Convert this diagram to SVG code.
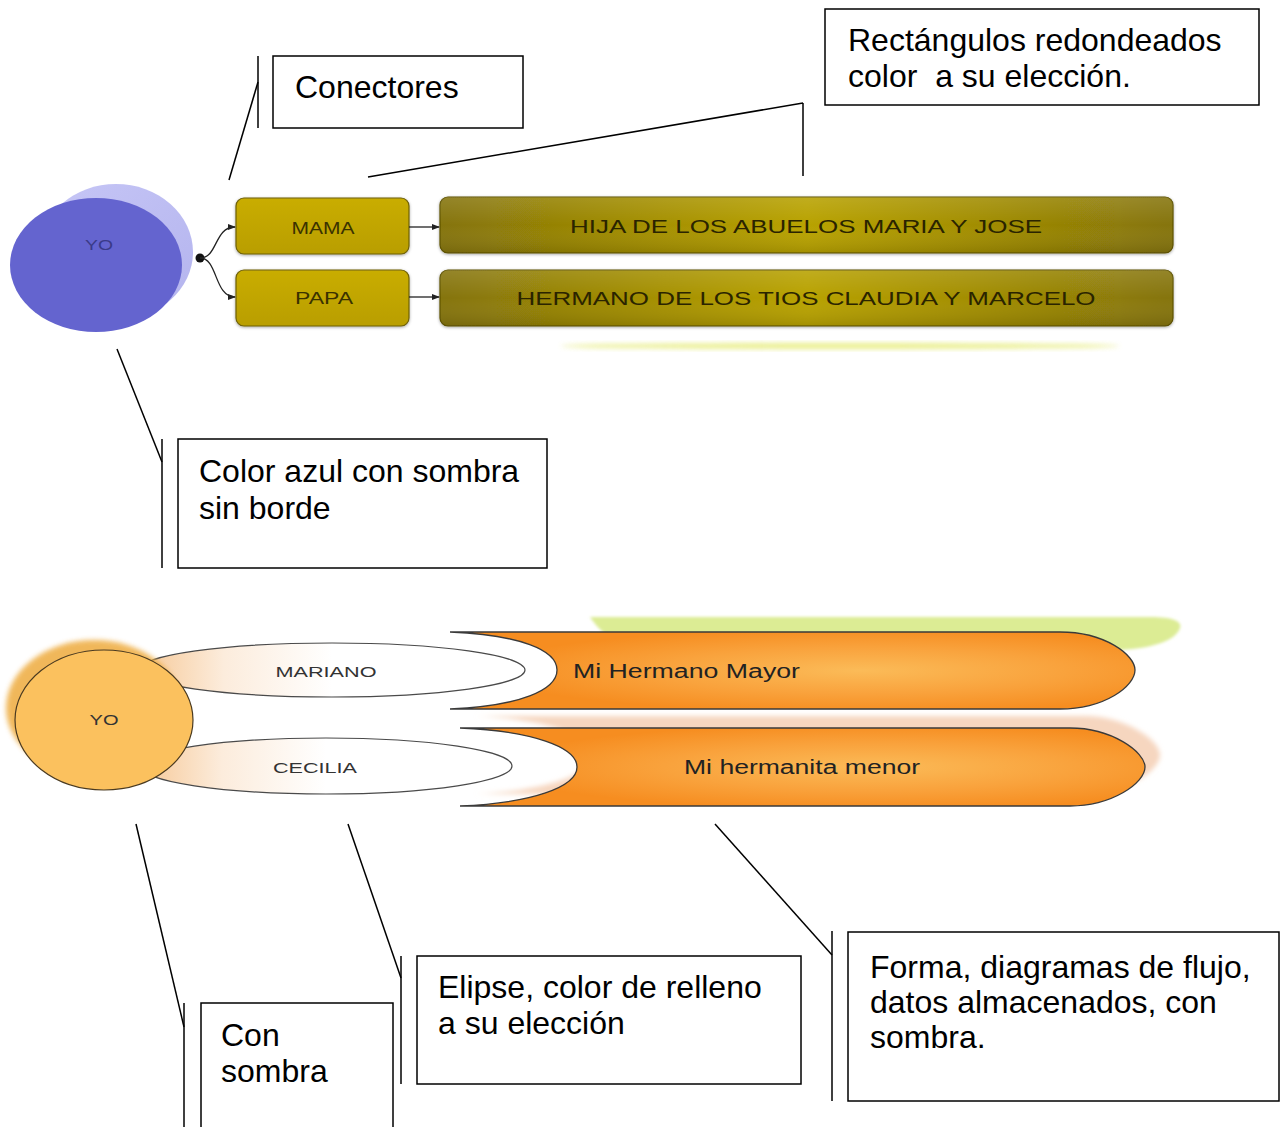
<svg xmlns="http://www.w3.org/2000/svg" width="1281" height="1127" viewBox="0 0 1281 1127">
<style>
.note{fill:#fff;stroke:#000;stroke-width:1.5}
.bar{stroke:#000;stroke-width:1.5;fill:none}
.ntxt{font-family:"Liberation Sans",Arial,sans-serif;font-size:32px;fill:#000}
.lbl{font-family:"Liberation Sans",Arial,sans-serif;text-anchor:middle;dominant-baseline:central}
.olive{fill:url(#gOlive);stroke:#6e6008;stroke-width:1.2}
.oliveBig{fill:url(#gOliveBig);stroke:#5e5206;stroke-width:1.2}
.conn{stroke:#222;stroke-width:1.3;fill:none}
.store{fill:url(#gOrange);stroke:#3a3a3a;stroke-width:1.3}
.wellipse{fill:url(#gPeach);stroke:#4a4a4a;stroke-width:1.2}
</style>
<defs>
<linearGradient id="gOlive" x1="0" y1="0" x2="0" y2="1">
<stop offset="0" stop-color="#c9ad06"/><stop offset="1" stop-color="#b99e02"/>
</linearGradient>
<linearGradient id="gOliveBig" x1="0" y1="0" x2="1" y2="0">
<stop offset="0" stop-color="#857408"/><stop offset="0.3" stop-color="#a59004"/><stop offset="0.5" stop-color="#b8a200"/><stop offset="0.7" stop-color="#a59004"/><stop offset="1" stop-color="#857408"/>
</linearGradient>
<linearGradient id="gOliveShade" x1="0" y1="0" x2="0" y2="1">
<stop offset="0" stop-color="#ffffff" stop-opacity="0.12"/><stop offset="0.5" stop-color="#ffffff" stop-opacity="0"/><stop offset="1" stop-color="#000000" stop-opacity="0.12"/>
</linearGradient>
<radialGradient id="gOrange" cx="0.6" cy="0.5" r="0.55">
<stop offset="0" stop-color="#fbbb58"/><stop offset="0.55" stop-color="#f9a23c"/><stop offset="1" stop-color="#f68d20"/>
</radialGradient>
<linearGradient id="gPeach" x1="0" y1="0" x2="1" y2="0">
<stop offset="0" stop-color="#f6c896"/><stop offset="0.22" stop-color="#fcecdc"/><stop offset="0.5" stop-color="#ffffff"/>
</linearGradient>
<linearGradient id="gLav" x1="0" y1="0" x2="1" y2="1">
<stop offset="0" stop-color="#c6c6f6"/><stop offset="1" stop-color="#b4b4ee"/>
</linearGradient>
<filter id="blur2" x="-20%" y="-50%" width="140%" height="200%"><feGaussianBlur stdDeviation="2.5"/></filter>
<filter id="blur1" x="-20%" y="-50%" width="140%" height="200%"><feGaussianBlur stdDeviation="1.5"/></filter>
<filter id="soft" x="-5%" y="-30%" width="110%" height="160%"><feDropShadow dx="0" dy="1" stdDeviation="1.5" flood-color="#000" flood-opacity="0.35"/></filter>
<marker id="arr" markerWidth="8" markerHeight="8" refX="7" refY="4" orient="auto" markerUnits="userSpaceOnUse">
<path d="M0,1 L8,4 L0,7 Z" fill="#222"/>
</marker>
</defs>

<!-- Top diagram -->
<g id="yo-azul">
<ellipse cx="116" cy="252" rx="77" ry="68" fill="url(#gLav)"/>
<ellipse cx="96" cy="265" rx="86" ry="67" fill="#6464cf"/>
<text class="lbl" x="99" y="244" font-size="15" fill="#3a3a88" textLength="28" lengthAdjust="spacingAndGlyphs">YO</text>
</g>
<g id="mama">
<rect x="236" y="198" width="173" height="56" rx="8" class="olive" filter="url(#soft)"/>
<text class="lbl" x="323" y="228" font-size="16" fill="#3a3200" textLength="63" lengthAdjust="spacingAndGlyphs">MAMA</text>
</g>
<g id="papa">
<rect x="236" y="270" width="173" height="56" rx="8" class="olive" filter="url(#soft)"/>
<text class="lbl" x="324" y="298" font-size="16" fill="#3a3200" textLength="58" lengthAdjust="spacingAndGlyphs">PAPA</text>
</g>
<g id="hija">
<rect x="440" y="197" width="733" height="56" rx="8" class="oliveBig" filter="url(#soft)"/>
<rect x="440" y="197" width="733" height="56" rx="8" fill="url(#gOliveShade)"/>
<text class="lbl" x="806" y="226" font-size="19" fill="#2a2400" textLength="472" lengthAdjust="spacingAndGlyphs">HIJA DE LOS ABUELOS MARIA Y JOSE</text>
</g>
<g id="hermano">
<rect x="440" y="270" width="733" height="56" rx="8" class="oliveBig" filter="url(#soft)"/>
<rect x="440" y="270" width="733" height="56" rx="8" fill="url(#gOliveShade)"/>
<text class="lbl" x="806" y="298" font-size="19" fill="#2a2400" textLength="579" lengthAdjust="spacingAndGlyphs">HERMANO DE LOS TIOS CLAUDIA Y MARCELO</text>
</g>
<g id="reflejo">
<ellipse cx="840" cy="346" rx="280" ry="3" fill="#e4ea70" filter="url(#blur2)" opacity="0.8"/>
</g>

<!-- Bottom diagram -->
<g id="sombras-inferior">
<path d="M590,617 L1150,617 C1175,617 1182,622 1180,628 C1176,640 1155,648 1120,650 L640,650 C615,645 600,632 590,617 Z" fill="#dcec94" filter="url(#blur1)"/>
<path d="M475,716 L1085,716 C1125,716 1160,740 1160,755 C1160,771 1125,794 1085,794 L475,794 C545,791 592,775 592,755 C592,735 545,719 475,716 Z" fill="#f6d6bf" filter="url(#blur2)"/>
</g>
<g id="mariano">
<ellipse cx="332" cy="670" rx="193" ry="27" class="wellipse"/>
<text class="lbl" x="326" y="671" font-size="15" fill="#333" textLength="101" lengthAdjust="spacingAndGlyphs">MARIANO</text>
</g>
<g id="cecilia">
<ellipse cx="326" cy="766" rx="186" ry="28" class="wellipse"/>
<text class="lbl" x="315" y="767" font-size="15" fill="#333" textLength="84" lengthAdjust="spacingAndGlyphs">CECILIA</text>
</g>
<g id="yo-naranja">
<ellipse cx="94" cy="708" rx="88" ry="68" fill="#efb04a" opacity="0.9" filter="url(#blur2)"/>
<ellipse cx="104" cy="720" rx="89" ry="70" fill="#fbc15e" stroke="#4a3a20" stroke-width="1.2"/>
<text class="lbl" x="104" y="719" font-size="15" fill="#333" textLength="29" lengthAdjust="spacingAndGlyphs">YO</text>
</g>
<g id="hermano-mayor">
<path class="store" d="M450,632 L1060,632 C1105,632 1135,655 1135,670 C1135,686 1105,709 1060,709 L450,709 C520,706 557,690 557,670 C557,650 520,635 450,632 Z"/>
<text x="573" y="671" font-family="'Liberation Sans',Arial,sans-serif" font-size="20" fill="#222" dominant-baseline="central" textLength="227" lengthAdjust="spacingAndGlyphs">Mi Hermano Mayor</text>
</g>
<g id="hermanita-menor">
<path class="store" d="M460,728 L1070,728 C1112,728 1145,752 1145,767 C1145,783 1112,806 1070,806 L460,806 C532,803 577,787 577,767 C577,747 532,731 460,728 Z"/>
<text class="lbl" x="802" y="767" font-size="20" fill="#222" textLength="236" lengthAdjust="spacingAndGlyphs">Mi hermanita menor</text>
</g>

<!-- Connectors -->
<g id="connectors">
<circle cx="200" cy="258" r="4.5" fill="#111"/>
<path class="conn" d="M200,258 C218,258 214,227 235,227" marker-end="url(#arr)"/>
<path class="conn" d="M200,258 C218,258 214,297 235,297" marker-end="url(#arr)"/>
<path class="conn" d="M409,227 L439,227" marker-end="url(#arr)"/>
<path class="conn" d="M409,297 L439,297" marker-end="url(#arr)"/>
<path class="bar" d="M258,82 L229,180"/>
<path class="bar" d="M803,103 L368,177 M803,103 L803,176"/>
<path class="bar" d="M162,462 L117,349"/>
<path class="bar" d="M184,1027 L136,824"/>
<path class="bar" d="M401,978 L348,824"/>
<path class="bar" d="M832,955 L715,824"/>
</g>

<!-- Callouts -->
<g id="nota-conectores">
<line class="bar" x1="258" y1="56" x2="258" y2="128"/>
<rect class="note" x="273" y="56" width="250" height="72"/>
<text class="ntxt" x="295" y="98">Conectores</text>
</g>
<g id="nota-rectangulos">
<rect class="note" x="825" y="9" width="434" height="96"/>
<text class="ntxt" x="848" y="51">Rectángulos redondeados</text>
<text class="ntxt" x="848" y="87" xml:space="preserve">color  a su elección.</text>
</g>
<g id="nota-azul">
<line class="bar" x1="162" y1="439" x2="162" y2="568"/>
<rect class="note" x="178" y="439" width="369" height="129"/>
<text class="ntxt" x="199" y="482">Color azul con sombra</text>
<text class="ntxt" x="199" y="519">sin borde</text>
</g>
<g id="nota-sombra">
<line class="bar" x1="184" y1="1003" x2="184" y2="1127"/>
<rect class="note" x="201" y="1003" width="192" height="130"/>
<text class="ntxt" x="221" y="1046">Con</text>
<text class="ntxt" x="221" y="1082">sombra</text>
</g>
<g id="nota-elipse">
<line class="bar" x1="401" y1="956" x2="401" y2="1084"/>
<rect class="note" x="417" y="956" width="384" height="128"/>
<text class="ntxt" x="438" y="998">Elipse, color de relleno</text>
<text class="ntxt" x="438" y="1034">a su elección</text>
</g>
<g id="nota-forma">
<line class="bar" x1="832" y1="931" x2="832" y2="1101"/>
<rect class="note" x="848" y="932" width="431" height="169"/>
<text class="ntxt" x="870" y="978">Forma, diagramas de flujo,</text>
<text class="ntxt" x="870" y="1013">datos almacenados, con</text>
<text class="ntxt" x="870" y="1048">sombra.</text>
</g>
</svg>
